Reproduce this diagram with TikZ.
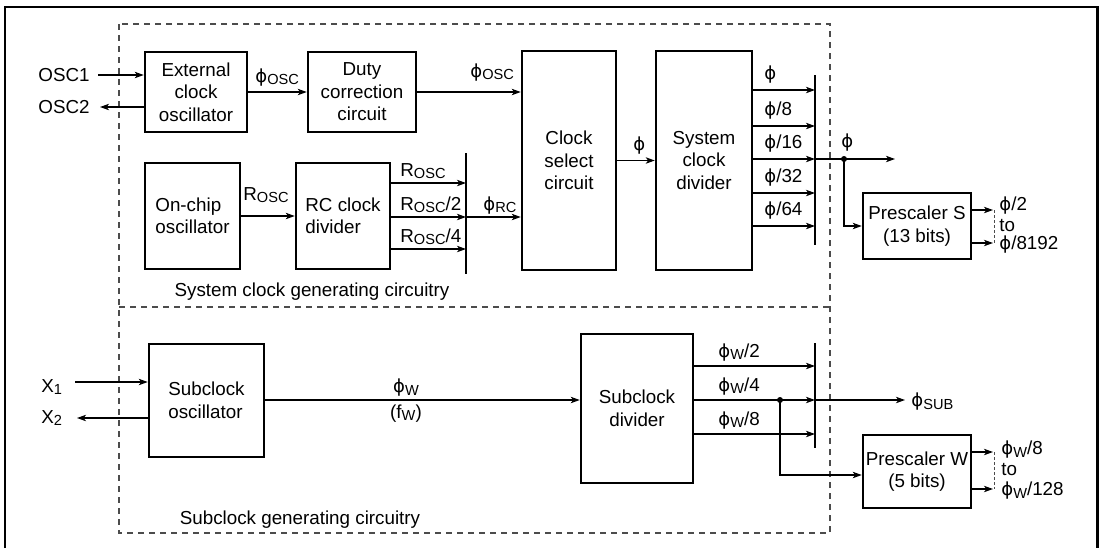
\documentclass[tikz,border=0pt]{standalone}
\usepackage{fontspec}
\setmainfont{Liberation Sans}
\newfontfamily\djv{DejaVu Sans}
\usetikzlibrary{arrows.meta}
\newcommand{\fsz}{\fontsize{9.4}{11.25}\selectfont}
\newcommand{\ph}{{\djv\fontsize{9}{10}\selectfont ϕ}}
\newcommand{\sbs}[1]{\raisebox{-1.3pt}{\fontsize{7.3}{8}\selectfont #1}}
\tikzset{
  blk/.style={draw, line width=1.25pt, inner sep=0pt, align=center, font=\fsz},
  lbl/.style={inner sep=0pt, font=\fsz},
  arr/.style={line width=0.6pt, -{Stealth[length=4.5pt,width=3.2pt,inset=1.2pt]}},
  ln/.style={line width=0.6pt},
  bus/.style={line width=0.75pt},
  region/.style={draw=black!70, dash pattern=on 3pt off 2.5pt, line width=0.6pt},
  rng/.style={draw=black!70, dash pattern=on 1.5pt off 1pt, line width=0.5pt},
  dotc/.style={circle, fill, inner sep=0pt, minimum size=3pt},
  frame/.style={line width=1.25pt}
}
\begin{document}
\begin{tikzpicture}[x=0.5pt,y=-0.5pt]
\useasboundingbox (0,0) rectangle (1100,548);
% outer frame
\draw[frame] (5,548) -- (5,7) -- (1097.5,7) -- (1097.5,548);
% dashed regions
\draw[region] (119,24) rectangle (830,533);
\draw[region] (119,307) -- (830,307);

% ---------- blocks ----------
\node[blk, minimum width=51pt, minimum height=40pt] (ext) at (196,92) {External\\clock\\oscillator};
\node[blk, minimum width=54pt, minimum height=40pt] (duty) at (362,92) {Duty\\correction\\circuit};
\node[blk, minimum width=47pt, minimum height=109.5pt] (csel) at (569,160.5) {Clock\\select\\circuit};
\node[blk, minimum width=48pt, minimum height=109.5pt] (sdiv) at (704,160.5) {System\\clock\\divider};
\node[blk, minimum width=47.5pt, minimum height=53pt, align=left] (onchip) at (192.5,216) {On-chip\\oscillator};
\node[blk, minimum width=47pt, minimum height=53pt, align=left] (rcdiv) at (343,216) {RC clock\\divider};
\node[blk, minimum width=54pt, minimum height=33pt] (presS) at (917,226) {Prescaler S\\(13 bits)};
\node[blk, minimum width=57.5pt, minimum height=56.5pt, align=left] (subosc) at (206.5,400.5) {Subclock\\oscillator};
\node[blk, minimum width=56pt, minimum height=74.5pt] (subdiv) at (637,408.5) {Subclock\\divider};
\node[blk, minimum width=54pt, minimum height=36.5pt] (presW) at (917,471.5) {Prescaler W\\(5 bits)};

% ---------- OSC inputs ----------
\node[lbl, anchor=east] (osc1) at (90,75) {OSC1};
\node[lbl, anchor=east] (osc2) at (90,107) {OSC2};
\draw[arr] ([xshift=4pt]osc1.east) -- (osc1 -| ext.west);
\draw[arr] (osc2 -| ext.west) -- ([xshift=5pt]osc2.east);

\draw[arr] (ext.east) -- (duty.west);
\node[lbl, anchor=base west] (posc1) at (255,82) {\ph\sbs{OSC}};
\draw[arr] (duty.east) -- (duty.east -| csel.west);
\node[lbl, anchor=base west] (posc2) at (470,77) {\ph\sbs{OSC}};

\draw[arr] (csel.east) -- (sdiv.west);
\node[lbl, anchor=base west] (phc) at (633,150) {\ph};

% system clock divider outputs and bus
\coordinate (b1t) at (815,75);
\coordinate (b1b) at (815,245);
\draw[bus] (b1t) -- (b1b);
\foreach \i/\y/\t in {1/90/{\ph}, 2/126/{\ph/8}, 3/159/{\ph/16}, 4/193/{\ph/32}, 5/226/{\ph/64}}{
  \coordinate (s\i) at (815,\y);
  \draw[arr] (s\i -| sdiv.east) -- (s\i);
  \node[lbl, anchor=base west] (sl\i) at (764,\y-11) {\t};
}
\node[dotc] (dot1) at (844,159) {};
\coordinate (phout) at (895,159);
\draw[arr] (s3) -- (phout);
\node[lbl, anchor=base west] (phl) at (841,147) {\ph};
\draw[arr] (dot1.center) |- (presS.west);

% prescaler S outputs
\coordinate (pS1) at (993,210);
\coordinate (pS2) at (993,243);
\draw[arr] (pS1 -| presS.east) -- (pS1);
\draw[arr] (pS2 -| presS.east) -- (pS2);
\draw[rng] ([xshift=0.8pt]pS1) -- ([xshift=0.8pt]pS2);
\node[lbl, anchor=west] (pSl1) at (999,206) {\ph/2};
\node[lbl, anchor=west] (pSl2) at (999,226) {to};
\node[lbl, anchor=west] (pSl3) at (999,245) {\ph/8192};

% on-chip / RC divider
\draw[arr] (onchip.east) -- (rcdiv.west);
\node[lbl, anchor=base west] (rosc) at (243,200) {R\sbs{OSC}};
\coordinate (b2t) at (466,153);
\coordinate (b2b) at (466,274);
\draw[bus] (b2t) -- (b2b);
\foreach \i/\y/\t in {1/183/{R\sbs{OSC}}, 2/217/{R\sbs{OSC}/2}, 3/249/{R\sbs{OSC}/4}}{
  \coordinate (r\i) at (466,\y);
  \draw[arr] (r\i -| rcdiv.east) -- (r\i);
  \node[lbl, anchor=base west] (rl\i) at (400,\y-7) {\t};
}
\draw[arr] (r2) -- (r2 -| csel.west);
\node[lbl, anchor=base west] (prc) at (483,210) {\ph\sbs{RC}};

\node[lbl] (sysl) at (312,292) {System clock generating circuitry};

% ---------- subclock ----------
\node[lbl, anchor=base west] (x1) at (41,392) {X\sbs{1}};
\node[lbl, anchor=base west] (x2) at (41,423) {X\sbs{2}};
\coordinate (x1a) at (75,382);
\coordinate (x2a) at (77,418);
\draw[arr] (x1a) -- (x1a -| subosc.west);
\draw[arr] (x2a -| subosc.west) -- (x2a);

\coordinate (w0) at (500,400);
\draw[arr] (w0 -| subosc.east) -- (w0 -| subdiv.west);
\node[lbl, anchor=south] (pw) at (406,397) {\ph\sbs{W}};
\node[lbl, anchor=north] (fw) at (406,404) {(f\sbs{W})};

\coordinate (b3t) at (815,343);
\coordinate (b3b) at (815,448);
\draw[bus] (b3t) -- (b3b);
\foreach \i/\y/\t in {1/366/{\ph\sbs{W}/2}, 2/400/{\ph\sbs{W}/4}, 3/434/{\ph\sbs{W}/8}}{
  \coordinate (w\i) at (815,\y);
  \draw[arr] (w\i -| subdiv.east) -- (w\i);
  \node[lbl, anchor=base west] (wl\i) at (718,\y-9) {\t};
}
\coordinate (psub) at (905,400);
\draw[arr] (w2) -- (psub);
\node[lbl, anchor=west] (psubl) at (911,402) {\ph\sbs{SUB}};
\node[dotc] (dot2) at (780,400) {};
\coordinate (brW) at (780,475);
\draw[arr] (dot2.center) -- (brW) -- (brW -| presW.west);

% prescaler W outputs
\coordinate (pW1) at (993,452);
\coordinate (pW2) at (993,489);
\draw[arr] (pW1 -| presW.east) -- (pW1);
\draw[arr] (pW2 -| presW.east) -- (pW2);
\draw[rng] ([xshift=0.8pt]pW1) -- ([xshift=0.8pt]pW2);
\node[lbl, anchor=west] (pWl1) at (1001,450) {\ph\sbs{W}/8};
\node[lbl, anchor=west] (pWl2) at (1001,470) {to};
\node[lbl, anchor=west] (pWl3) at (1001,491) {\ph\sbs{W}/128};

\node[lbl] (subl) at (300,520) {Subclock generating circuitry};
\end{tikzpicture}
\end{document}
